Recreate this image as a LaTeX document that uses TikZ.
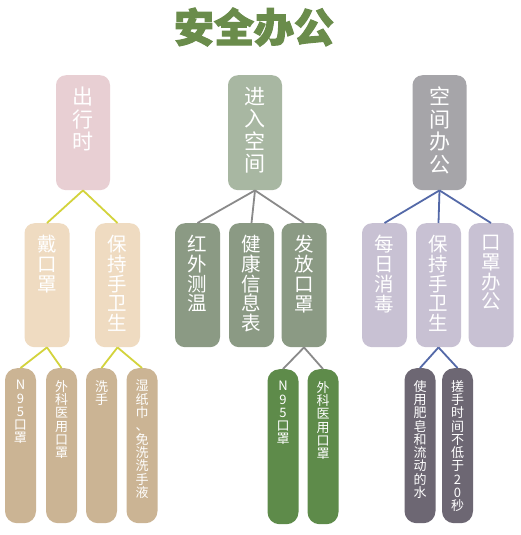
\documentclass[tikz,border=0pt]{standalone}
\usepackage{fontspec}
\newfontfamily\cjk{Noto Sans CJK SC}
\newfontfamily\titlefont[FakeBold=2.5]{Noto Sans CJK SC}
\definecolor{pinkbox}{HTML}{E8CFD3}
\definecolor{greengrey}{HTML}{A8B7A2}
\definecolor{greybox}{HTML}{A6A5A9}
\definecolor{beige}{HTML}{EFDBC1}
\definecolor{tan}{HTML}{CBB494}
\definecolor{sage}{HTML}{8B9A84}
\definecolor{darkgreen}{HTML}{5E8B4A}
\definecolor{lavender}{HTML}{C8C1D3}
\definecolor{darkpurple}{HTML}{6D6773}
\definecolor{yellowline}{HTML}{D3D33C}
\definecolor{greyline}{HTML}{8A8A8A}
\definecolor{blueline}{HTML}{5469A8}
\definecolor{titlegreen}{HTML}{6A8C4B}
\newcommand{\boxtext}[5]{\parbox[c][#2][t]{#1}{\vspace*{12pt}\centering\fontsize{#3}{#4}\selectfont #5\par}}
\newcommand{\toptext}[1]{\boxtext{54pt}{115pt}{21}{22.5}{#1}}
\newcommand{\midtext}[1]{\boxtext{45pt}{124pt}{19.5}{19.8}{#1}}
\newcommand{\lowtext}[1]{\boxtext{31pt}{155pt}{13}{13.3}{#1}}
\begin{document}
\begin{tikzpicture}[x=1pt,y=-1pt,
  boxbase/.style={anchor=north, inner sep=0pt, text=white, font=\cjk},
  topbox/.style={boxbase, rounded corners=10pt},
  midbox/.style={boxbase, rounded corners=10pt},
  lowbox/.style={boxbase, rounded corners=12pt},
  link/.style={line width=1.8pt}]
\useasboundingbox[fill=white] (0,0) rectangle (521,535);

\node[font=\titlefont\bfseries\fontsize{40}{40}\selectfont, text=titlegreen] (title) at (254,27) {安全办公};

% top level
\node[topbox, fill=pinkbox] (A) at (83,75) {\toptext{出\\行\\时}};
\node[topbox, fill=greengrey] (B) at (255,75) {\toptext{进\\入\\空\\间}};
\node[topbox, fill=greybox] (C) at (439.5,75) {\toptext{空\\间\\办\\公}};

% middle level
\node[midbox, fill=beige] (A1) at (47,223) {\midtext{戴\\口\\罩}};
\node[midbox, fill=beige] (A2) at (117.5,223) {\midtext{保\\持\\手\\卫\\生}};
\node[midbox, fill=sage] (B1) at (197.5,223) {\midtext{红\\外\\测\\温}};
\node[midbox, fill=sage] (B2) at (251.5,223) {\midtext{健\\康\\信\\息\\表}};
\node[midbox, fill=sage] (B3) at (304,223) {\midtext{发\\放\\口\\罩}};
\node[midbox, fill=lavender] (C1) at (384.5,223) {\midtext{每\\日\\消\\毒}};
\node[midbox, fill=lavender] (C2) at (438.5,223) {\midtext{保\\持\\手\\卫\\生}};
\node[midbox, fill=lavender] (C3) at (491,223) {\midtext{口\\罩\\办\\公}};

% low level
\node[lowbox, fill=tan] (A1a) at (20.5,368) {\lowtext{N\\9\\5\\口\\罩}};
\node[lowbox, fill=tan] (A1b) at (61.5,368) {\lowtext{外\\科\\医\\用\\口\\罩}};
\node[lowbox, fill=tan] (A2a) at (101.5,368) {\lowtext{洗\\手}};
\node[lowbox, fill=tan] (A2b) at (142,368) {\lowtext{湿\\纸\\巾\\、\\免\\洗\\洗\\手\\液}};
\node[lowbox, fill=darkgreen] (B3a) at (283,369) {\lowtext{N\\9\\5\\口\\罩}};
\node[lowbox, fill=darkgreen] (B3b) at (323,369) {\lowtext{外\\科\\医\\用\\口\\罩}};
\node[lowbox, fill=darkpurple] (C2a) at (420,368) {\lowtext{使\\用\\肥\\皂\\和\\流\\动\\的\\水}};
\node[lowbox, fill=darkpurple] (C2b) at (457.5,368) {\lowtext{搓\\手\\时\\间\\不\\低\\于\\2\\0\\秒}};

% connectors
\draw[link, yellowline] (A.south) -- (A1.north);
\draw[link, yellowline] (A.south) -- (A2.north);
\draw[link, yellowline] (A1.south) -- (A1a.north);
\draw[link, yellowline] (A1.south) -- (A1b.north);
\draw[link, yellowline] (A2.south) -- (A2a.north);
\draw[link, yellowline] (A2.south) -- (A2b.north);
\draw[link, greyline] (B.south) -- (B1.north);
\draw[link, greyline] (B.south) -- (B2.north);
\draw[link, greyline] (B.south) -- (B3.north);
\draw[link, greyline] (B3.south) -- (B3a.north);
\draw[link, greyline] (B3.south) -- (B3b.north);
\draw[link, blueline] (C.south) -- (C1.north);
\draw[link, blueline] (C.south) -- (C2.north);
\draw[link, blueline] (C.south) -- (C3.north);
\draw[link, blueline] (C2.south) -- (C2a.north);
\draw[link, blueline] (C2.south) -- (C2b.north);
\end{tikzpicture}
\end{document}
